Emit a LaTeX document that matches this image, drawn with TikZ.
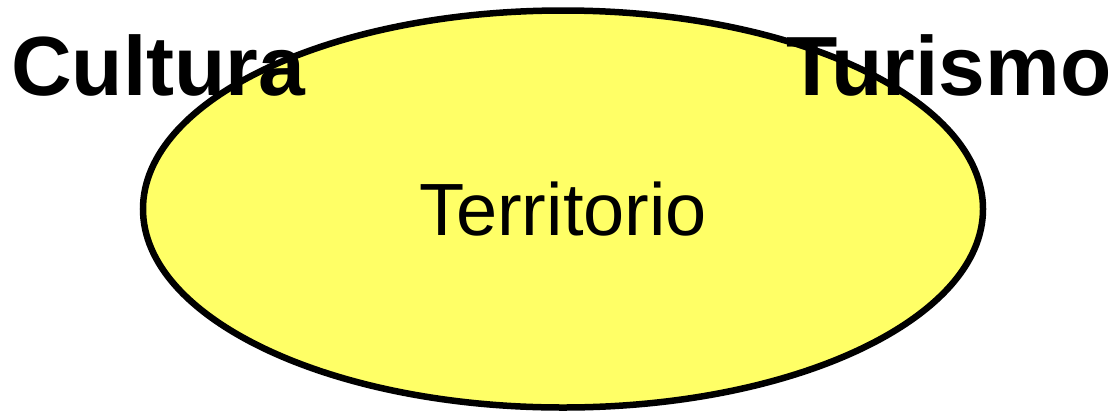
\documentclass[tikz,border=0pt]{standalone}
\usepackage{fontspec}
\setmainfont{Liberation Sans}
\usetikzlibrary{shapes.geometric}
\definecolor{terrayellow}{HTML}{FFFF66}
\tikzset{
    area/.style={
        draw,ellipse,line width=6.5bp,
        fill=terrayellow,
        minimum width=840bp,minimum height=397bp,
        font=\fontsize{74bp}{80bp}\selectfont
    },
    label word/.style={
        anchor=base west,inner sep=0pt,
        font=\fontsize{84bp}{90bp}\selectfont\bfseries
    }
}
\begin{document}
\begin{tikzpicture}[x=1bp,y=-1bp]
\useasboundingbox (0,0) rectangle (1117,410);
\node[area] (territorio) at (563,209) {Territorio};
\node[label word] (cultura) at (11,95) {Cultura};
\node[label word] (turismo) at (786,95) {Turismo};
\end{tikzpicture}
\end{document}
